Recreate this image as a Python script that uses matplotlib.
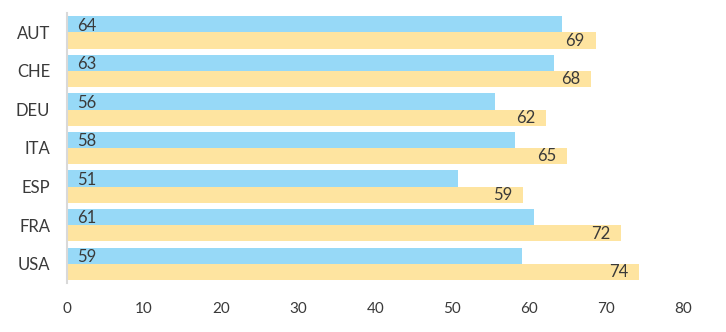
import matplotlib.pyplot as plt
import numpy as np

plt.rcParams['font.family'] = ['Lato', 'DejaVu Sans']

countries = ["AUT", "CHE", "DEU", "ITA", "ESP", "FRA", "USA"]
blue_vals = [64.2, 63.2, 55.5, 58.2, 50.8, 60.6, 59.0]
yellow_vals = [68.6, 68.0, 62.2, 64.9, 59.2, 71.9, 74.2]
blue_labels = [64, 63, 56, 58, 51, 61, 59]
yellow_labels = [69, 68, 62, 65, 59, 72, 74]
x_ticks = [0, 10, 20, 30, 40, 50, 60, 70, 80]

blue_color = "#97d9f7"
yellow_color = "#fee4a0"
text_color = "#3a3a3a"

fig = plt.figure(figsize=(7.26, 3.32), dpi=100)
ax = fig.add_axes([0.0923, 0.148, 0.849, 0.813])

y = np.arange(len(countries))
h = 0.42
ax.barh(y - 0.205, blue_vals, height=h, color=blue_color)
ax.barh(y + 0.215, yellow_vals, height=h, color=yellow_color)

for i in range(len(countries)):
    ax.text(1.3, y[i] - 0.17, str(blue_labels[i]), va='center', ha='left',
            fontsize=12, color=text_color)
    ax.text(yellow_vals[i] - 1.4, y[i] + 0.22, str(yellow_labels[i]), va='center', ha='right',
            fontsize=12, color=text_color)

ax.set_ylim(len(countries) - 0.5, -0.5)
ax.set_xlim(0, 80)
ax.set_yticks(y)
ax.set_yticklabels(countries, fontsize=12, color=text_color)
ax.set_xticks(x_ticks)
ax.set_xticklabels([str(t) for t in x_ticks], fontsize=11, color=text_color)
ax.tick_params(axis='both', length=0)
ax.tick_params(axis='x', pad=14)
ax.tick_params(axis='y', pad=12)

for s in ['top', 'right', 'bottom']:
    ax.spines[s].set_visible(False)
ax.spines['left'].set_color('#d9d9d9')
ax.spines['left'].set_linewidth(1.5)

fig.savefig("out.png", dpi=100)
